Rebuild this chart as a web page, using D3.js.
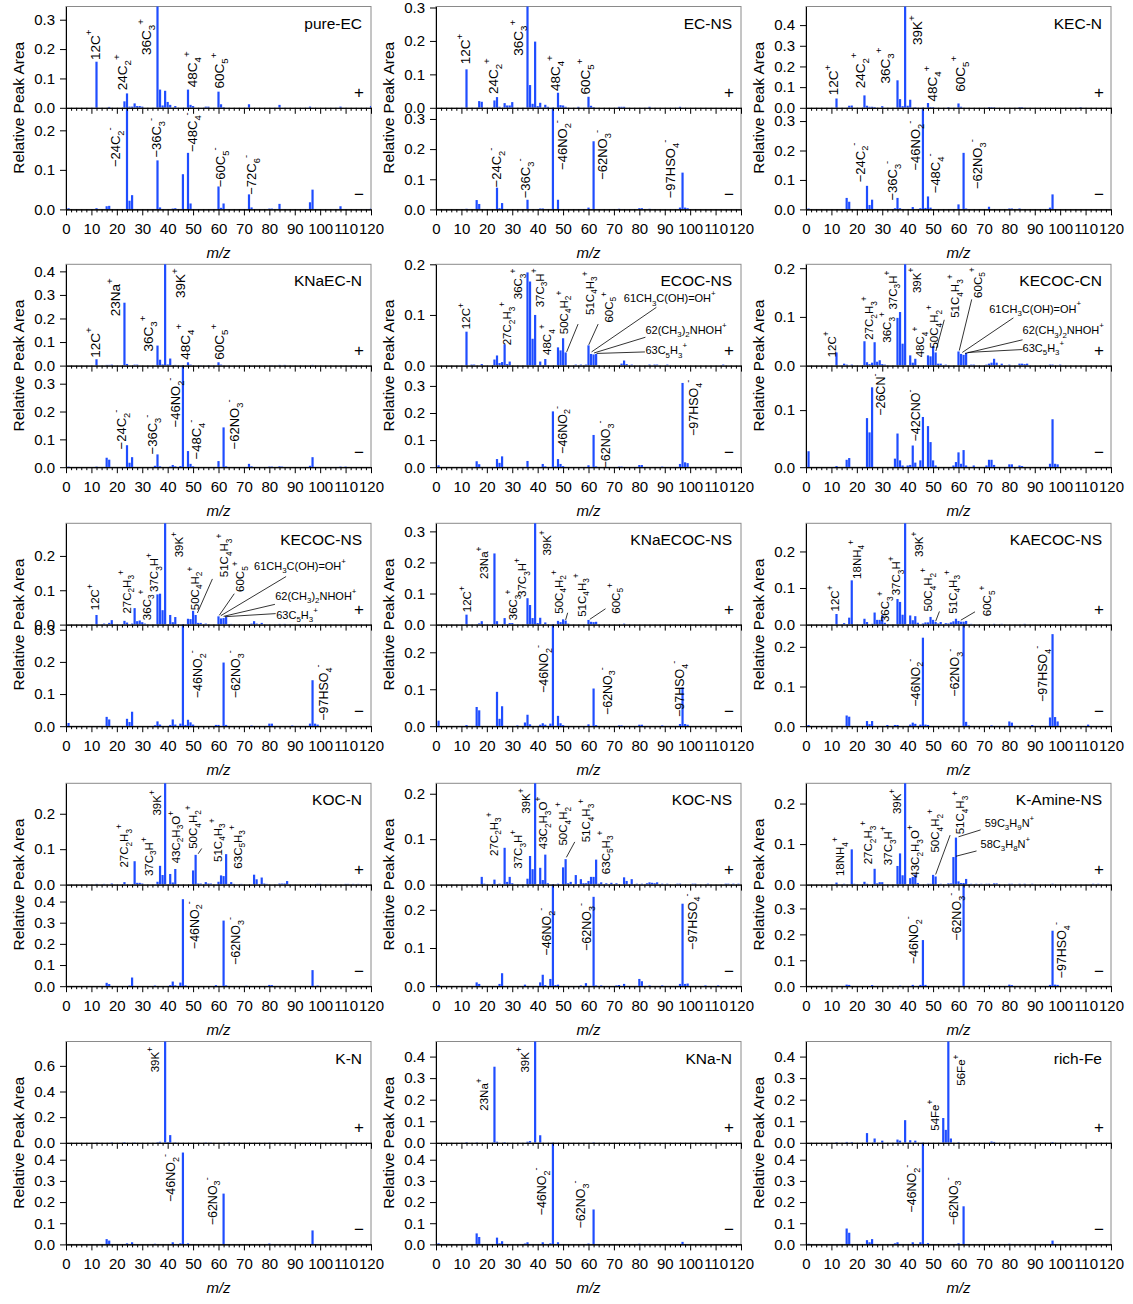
<!DOCTYPE html>
<html><head><meta charset="utf-8">
<script src="https://cdn.jsdelivr.net/npm/d3@7"></script>
<style>body{margin:0;background:#fff}svg{display:block}</style>
</head><body>
<svg id="c" width="1133" height="1304"></svg>
<script>
// ---------------- DATA ----------------
const panelNames = ["pure-EC","EC-NS","KEC-N","KNaEC-N","ECOC-NS","KECOC-CN","KECOC-NS","KNaECOC-NS","KAECOC-NS","KOC-N","KOC-NS","K-Amine-NS","K-N","KNa-N","rich-Fe"];
const mzTicks = [0,10,20,30,40,50,60,70,80,90,100,110,120];
const yMaxPos = [0.345,0.303,0.49,0.43,0.2,0.208,0.295,0.326,0.277,0.286,0.223,0.25,0.79,0.47,0.47];
const yMaxNeg = [0.257,0.337,0.345,0.365,0.375,0.178,0.316,0.275,0.256,0.48,0.266,0.392,0.48,0.48,0.48];
const yStepPos = [0.1,0.1,0.1,0.1,0.1,0.1,0.1,0.1,0.1,0.1,0.1,0.1,0.2,0.1,0.1];
const yStepNeg = [0.1,0.1,0.1,0.1,0.1,0.1,0.1,0.1,0.1,0.1,0.1,0.1,0.1,0.1,0.1];

// pure-EC
const pureEC_pos = [[12,.157],[17,.003],[23,.022],[24,.049],[25,.004],[26,.004],[27,.015],[28,.006],[29,.006],[30,.004],[36,.36],[37,.062],[38,.008],[39,.058],[40,.02],[41,.01],[43,.006],[48,.062],[49,.01],[50,.006],[55,.004],[56,.004],[60,.055],[61,.012],[62,.002],[72,.012],[84,.01],[96,.004],[108,.004],[120,.006]];
const pureEC_neg = [[1,.003],[12,.003],[16,.008],[17,.009],[24,.3],[25,.022],[26,.036],[36,.124],[37,.005],[42,.002],[43,.003],[46,.089],[48,.143],[49,.015],[60,.058],[61,.004],[62,.015],[72,.038],[73,.005],[80,.002],[81,.002],[84,.014],[96,.018],[97,.05],[108,.008],[120,.002]];
const pureEC_posLab = [[11.4,.163,"12C^+"],[22.1,.06,"24C_2^+"],[31.6,.18,"36C_3^+"],[49.7,.07,"48C_4^+"],[60.4,.066,"60C_5^+"]];
const pureEC_negLab = [[19.5,.107,"−24C_2^-"],[35.7,.131,"−36C_3^-"],[49.7,.145,"−48C_4^-"],[60.9,.056,"−60C_5^-"],[73,.037,"−72C_6^-"]];

// EC-NS
const ECNS_pos = [[12,.115],[17,.02],[18,.018],[23,.022],[24,.032],[25,.003],[27,.014],[28,.007],[29,.007],[30,.017],[36,.33],[37,.068],[38,.012],[39,.198],[40,.005],[41,.015],[43,.009],[44,.003],[48,.045],[49,.008],[50,.007],[51,.003],[56,.003],[60,.033],[61,.006],[62,.002],[72,.003],[73,.003],[74,.003],[84,.003],[96,.003]];
const ECNS_neg = [[12,.002],[16,.031],[17,.018],[24,.072],[25,.004],[26,.021],[36,.032],[41,.003],[42,.003],[46,.36],[48,.032],[60,.006],[62,.226],[72,.002],[80,.004],[81,.004],[84,.002],[96,.006],[97,.122],[98,.006],[99,.004]];
const ECNS_posLab = [[11.5,.13,"12C^+"],[22.3,.041,"24C_2^+"],[32.3,.156,"36C_3^+"],[47,.05,"48C_4^+"],[58.8,.04,"60C_5^+"]];
const ECNS_negLab = [[23.6,.073,"−24C_2^-"],[35.2,.037,"−36C_3^-"],[49.6,.131,"−46NO_2^-"],[65.4,.098,"−62NO_3^-"],[92.3,.037,"−97HSO_4^-"]];

// KEC-N
const KECN_pos = [[12,.045],[17,.01],[18,.011],[23,.06],[24,.01],[25,.005],[26,.005],[27,.004],[30,.008],[36,.133],[37,.042],[38,.008],[39,.55],[40,.01],[41,.039],[43,.003],[48,.023],[49,.004],[50,.003],[56,.003],[60,.021],[61,.005],[72,.003],[73,.003],[74,.002],[84,.003],[85,.003],[108,.003]];
const KECN_neg = [[1,.003],[16,.039],[17,.026],[24,.08],[25,.015],[26,.033],[35,.004],[36,.039],[37,.004],[42,.008],[45,.004],[46,.38],[47,.005],[48,.044],[49,.006],[60,.017],[62,.192],[63,.003],[72,.009],[80,.003],[81,.003],[84,.003],[96,.006],[97,.051]];
const KECN_posLab = [[10.8,.061,"12C^+"],[21.2,.094,"24C_2^+"],[31.1,.118,"36C_3^+"],[43.8,.304,"39K^+"],[49.8,.03,"48C_4^+"],[60.6,.078,"60C_5^+"]];
const KECN_negLab = [[21.2,.092,"−24C_2^-"],[34.1,.03,"−36C_3^-"],[43.1,.132,"−46NO_2^-"],[50.8,.055,"−48C_4^-"],[67.5,.069,"−62NO_3^-"]];

// KNaEC-N
const KNaECN_pos = [[12,.027],[16,.003],[17,.003],[18,.004],[23,.267],[24,.007],[27,.004],[28,.004],[36,.085],[37,.025],[38,.005],[39,.5],[40,.005],[41,.03],[43,.003],[48,.014],[49,.004],[53,.002],[56,.002],[60,.014],[61,.004],[72,.002],[81,.002],[84,.003],[86,.003],[97,.003],[113,.002]];
const KNaECN_neg = [[1,.002],[12,.002],[16,.034],[17,.027],[24,.079],[25,.016],[26,.036],[35,.005],[36,.046],[37,.003],[41,.002],[42,.008],[43,.003],[45,.004],[46,.4],[48,.058],[49,.012],[50,.003],[60,.022],[62,.143],[63,.003],[72,.012],[73,.003],[80,.002],[81,.002],[84,.003],[85,.002],[96,.005],[97,.036],[108,.002],[110,.002]];
const KNaECN_posLab = [[11.3,.033,"12C^+"],[19.5,.209,"23Na^+"],[32.4,.06,"36C_3^+"],[44.9,.287,"39K^+"],[46.8,.025,"48C_4^+"],[60.3,.025,"60C_5^+"]];
const KNaECN_negLab = [[21.7,.064,"−24C_2^-"],[34,.046,"−36C_3^-"],[43.2,.143,"−46NO_2^-"],[51.4,.028,"−48C_4^-"],[66.2,.064,"−62NO_3^-"]];

// ECOC-NS
const ECOCNS_pos = [[12,.067],[14,.002],[15,.002],[18,.003],[23,.012],[24,.02],[25,.005],[26,.007],[27,.042],[28,.003],[29,.008],[36,.184],[37,.166],[38,.053],[39,.1],[41,.008],[43,.013],[48,.036],[49,.03],[50,.054],[51,.026],[55,.002],[57,.002],[59,.002],[60,.04],[61,.023],[62,.022],[63,.023],[73,.004],[74,.01],[75,.003],[77,.002],[84,.002],[86,.002],[87,.002],[91,.002],[113,.002]];
const ECOCNS_neg = [[1,.007],[16,.022],[17,.011],[24,.03],[25,.016],[26,.04],[36,.023],[42,.012],[43,.003],[46,.206],[47,.003],[48,.03],[49,.012],[50,.004],[60,.007],[62,.119],[63,.003],[72,.002],[73,.002],[80,.008],[81,.008],[89,.002],[96,.012],[97,.311],[98,.018],[99,.015]];
const ECOCNS_posLab = [[11.9,.072,"12C^+"],[28,.04,"27C_2H_3^+"],[32.3,.131,"36C_3^+"],[40.7,.115,"37C_3H^+"],[43.7,.021,"48C_4^+"],[50.3,.062,"50C_4H_2^+"],[60.5,.1,"51C_4H_3^+"],[68,.085,"60C_5^+"]];
const ECOCNS_negLab = [[49.6,.049,"−46NO_2^-"],[66.7,-.005,"−62NO_3^-"],[101.4,.115,"−97HSO_4^-"]];
const ECOCNS_hLab = [[73.9,.125,"61CH_3C(OH)=OH^+"],[82.4,.062,"62(CH_3)_2NHOH^+"],[82.4,.022,"63C_5H_3^+"]];
const ECOCNS_lead = [[55.9,.082,51.4,.027],[63.8,.082,60.1,.041],[86.7,.115,61.2,.027],[82.4,.056,62.2,.025],[82.2,.027,63.2,.024]];

// KECOC-CN
const KECOCCN_pos = [[12,.027],[15,.004],[16,.002],[18,.002],[23,.05],[24,.007],[25,.003],[26,.006],[27,.048],[28,.008],[29,.011],[30,.003],[31,.002],[36,.098],[37,.11],[38,.045],[39,.23],[41,.021],[42,.006],[43,.014],[48,.021],[49,.019],[50,.04],[51,.027],[52,.004],[53,.004],[55,.002],[60,.029],[61,.024],[62,.022],[63,.026],[65,.002],[66,.002],[71,.002],[72,.004],[73,.006],[74,.014],[75,.006],[77,.004],[80,.002],[84,.004],[85,.004],[86,.003],[87,.004],[96,.002],[97,.002],[100,.002]];
const KECOCCN_neg = [[1,.028],[12,.002],[16,.013],[17,.016],[24,.086],[25,.061],[26,.14],[35,.015],[36,.059],[37,.012],[38,.003],[40,.003],[41,.004],[42,.038],[43,.008],[45,.012],[46,.088],[48,.072],[49,.044],[50,.012],[51,.003],[58,.003],[59,.009],[60,.026],[61,.006],[62,.03],[63,.003],[66,.003],[71,.003],[72,.013],[73,.013],[74,.004],[80,.005],[81,.005],[84,.003],[85,.002],[96,.006],[97,.084],[98,.006],[99,.005]];
const KECOCCN_posLab = [[10.1,.017,"12C^+"],[24.9,.053,"27C_2H_3^+"],[32,.047,"36C_3^+"],[34.1,.115,"37C_3H^+"],[43.5,.149,"39K^+"],[44.9,.017,"48C_4^+"],[50.5,.035,"50C_4H_2^+"],[58.6,.098,"51C_4H_3^+"],[67.5,.139,"60C_5^+"]];
const KECOCCN_negLab = [[29.4,.09,"−26CN^-"],[42.9,.045,"−42CNO^-"]];
const KECOCCN_hLab = [[72.1,.109,"61CH_3C(OH)=OH^+"],[85.2,.064,"62(CH_3)_2NHOH^+"],[85.2,.028,"63C_5H_3^+"]];
const KECOCCN_lead = [[54.4,.094,51.1,.03],[65.2,.136,60.3,.031],[81.6,.098,61.5,.027],[85.2,.053,62.6,.025],[85.2,.033,63.6,.027]];

// KECOC-NS
const KECOCNS_pos = [[12,.028],[15,.003],[17,.005],[18,.013],[23,.011],[24,.006],[26,.003],[27,.048],[28,.01],[29,.012],[30,.007],[31,.003],[36,.088],[37,.09],[38,.042],[39,.32],[41,.028],[42,.007],[43,.022],[48,.017],[49,.016],[50,.04],[51,.028],[52,.005],[53,.005],[55,.003],[60,.024],[61,.018],[62,.019],[63,.022],[65,.002],[73,.003],[74,.01],[75,.003],[77,.005],[84,.002],[86,.002]];
const KECOCNS_neg = [[1,.01],[16,.029],[17,.021],[24,.023],[25,.013],[26,.045],[35,.003],[36,.015],[37,.005],[41,.004],[42,.021],[43,.005],[45,.008],[46,.34],[47,.004],[48,.02],[49,.012],[50,.005],[59,.004],[60,.004],[62,.198],[63,.004],[73,.002],[80,.008],[81,.008],[89,.002],[96,.008],[97,.143],[98,.008],[99,.005]];
const KECOCNS_posLab = [[11.3,.042,"12C^+"],[23.8,.032,"27C_2H_3^+"],[31.7,.013,"36C_3^+"],[34.6,.095,"37C_3H^+"],[44.5,.196,"39K^+"],[50.7,.042,"50C_4H_2^+"],[62.2,.138,"51C_4H_3^+"],[68.6,.095,"60C_5^+"]];
const KECOCNS_negLab = [[51.7,.087,"−46NO_2^-"],[66.8,.087,"−62NO_3^-"],[101.4,.017,"−97HSO_4^-"]];
const KECOCNS_hLab = [[74,.16,"61CH_3C(OH)=OH^+"],[82.3,.072,"62(CH_3)_2NHOH^+"],[82.7,.016,"63C_5H_3^+"]];
const KECOCNS_lead = [[57.6,.133,51.7,.034],[66.2,.09,60.3,.027],[86.6,.14,60.9,.026],[82.2,.059,62,.024],[82.5,.032,62.5,.023]];

// KNaECOC-NS
const KNaECOCNS_pos = [[12,.032],[17,.004],[18,.011],[23,.229],[24,.011],[27,.021],[29,.005],[30,.005],[36,.085],[37,.063],[38,.021],[39,.35],[40,.005],[41,.022],[43,.007],[48,.012],[49,.008],[50,.017],[51,.013],[52,.003],[60,.015],[61,.009],[62,.008],[63,.009],[74,.003]];
const KNaECOCNS_neg = [[1,.015],[12,.003],[16,.052],[17,.043],[24,.093],[25,.02],[26,.054],[32,.002],[35,.01],[36,.031],[37,.005],[41,.004],[42,.008],[43,.004],[45,.007],[46,.3],[48,.028],[49,.008],[50,.003],[60,.005],[62,.102],[63,.003],[72,.002],[73,.002],[80,.004],[81,.004],[89,.002],[96,.006],[97,.105],[98,.006],[99,.004]];
const KNaECOCNS_posLab = [[12.2,.04,"12C^+"],[19,.147,"23Na^+"],[30.3,.014,"36C_3^+"],[33.9,.089,"37C_3H^+"],[43.7,.222,"39K^+"],[48.3,.035,"50C_4H_2^+"],[57.2,.025,"51C_4H_3^+"],[70.6,.035,"60C_5^+"]];
const KNaECOCNS_negLab = [[42.4,.09,"−46NO_2^-"],[67.3,.03,"−62NO_3^-"],[95.9,.025,"−97HSO_4^-"]];
const KNaECOCNS_lead = [[51.8,.038,51,.015],[66.7,.051,60.5,.017]];

// KAECOC-NS
const KAECOCNS_pos = [[12,.029],[15,.004],[17,.019],[18,.121],[23,.016],[24,.007],[26,.002],[27,.033],[28,.013],[29,.013],[30,.026],[31,.005],[36,.07],[37,.062],[38,.027],[39,.3],[41,.025],[42,.012],[43,.023],[44,.005],[46,.003],[47,.006],[48,.006],[49,.021],[50,.013],[51,.007],[52,.003],[53,.007],[55,.004],[56,.003],[57,.006],[58,.009],[59,.016],[60,.01],[61,.008],[62,.008],[63,.01],[65,.002],[74,.002],[77,.002],[86,.002]];
const KAECOCNS_neg = [[1,.003],[16,.027],[17,.024],[24,.013],[25,.005],[26,.013],[32,.003],[35,.003],[36,.003],[41,.004],[42,.009],[43,.006],[45,.004],[46,.223],[47,.004],[48,.003],[62,.28],[63,.011],[64,.002],[73,.002],[80,.012],[81,.009],[89,.003],[96,.022],[97,.232],[98,.023],[99,.012],[111,.004]];
const KAECOCNS_posLab = [[11.4,.036,"12C^+"],[19.9,.125,"18NH_4^+"],[31.1,.007,"36C_3^+"],[35.4,.08,"37C_3H^+"],[44.5,.185,"39K^+"],[48.1,.036,"50C_4H_2^+"],[57.6,.03,"51C_4H_3^+"],[71.3,.023,"60C_5^+"]];
const KAECOCNS_negLab = [[42.9,.049,"−46NO_2^-"],[58.6,.074,"−62NO_3^-"],[93,.061,"−97HSO_4^-"]];
const KAECOCNS_lead = [[52.5,.036,51,.009],[66.5,.035,60.9,.012]];

// KOC-N
const KOCN_pos = [[12,.002],[15,.002],[18,.003],[23,.007],[27,.066],[28,.005],[29,.005],[30,.003],[36,.008],[37,.053],[38,.027],[39,.3],[41,.03],[42,.006],[43,.044],[50,.04],[51,.084],[52,.003],[53,.003],[55,.007],[56,.003],[57,.003],[60,.008],[61,.026],[62,.024],[63,.086],[64,.002],[65,.007],[66,.002],[69,.002],[74,.028],[75,.015],[77,.02],[78,.003],[79,.002],[84,.003],[85,.003],[86,.003],[87,.01],[99,.002],[100,.002],[110,.002],[111,.002],[113,.002],[115,.002]];
const KOCN_neg = [[16,.016],[17,.01],[25,.003],[26,.041],[35,.003],[41,.005],[42,.022],[43,.004],[45,.017],[46,.411],[47,.004],[59,.005],[62,.31],[63,.004],[71,.002],[80,.006],[81,.005],[97,.076],[99,.003]];
const KOCN_posLab = [[22.8,.048,"27C_2H_3^+"],[32.6,.024,"37C_3H^+"],[35.7,.195,"39K^+"],[43.2,.06,"43C_2H_3O^+"],[50.1,.101,"50C_4H_2^+"],[59.6,.064,"51C_4H_3^+"],[67.5,.045,"63C_5H_3^+"]];
const KOCN_negLab = [[50.4,.175,"−46NO_2^-"],[66.8,.1,"−62NO_3^-"]];
const KOCN_lead = [[53.4,.102,52,.087]];

// KOC-NS
const KOCNS_pos = [[18,.017],[19,.002],[23,.011],[25,.002],[27,.081],[28,.006],[29,.017],[30,.003],[36,.013],[37,.063],[38,.034],[39,.25],[41,.037],[42,.01],[43,.066],[44,.003],[48,.002],[50,.038],[51,.056],[52,.003],[53,.006],[55,.021],[57,.012],[58,.003],[59,.003],[60,.008],[61,.017],[62,.017],[63,.055],[64,.002],[65,.005],[67,.003],[69,.004],[71,.003],[74,.016],[75,.008],[77,.012],[79,.002],[81,.002],[83,.003],[84,.005],[85,.004],[86,.003],[87,.005],[89,.002],[91,.002],[95,.002],[96,.002],[101,.002],[102,.002],[107,.002],[114,.002],[115,.002],[117,.002],[119,.002]];
const KOCNS_neg = [[1,.003],[16,.01],[17,.006],[25,.006],[26,.034],[35,.004],[41,.01],[42,.03],[43,.003],[45,.019],[46,.28],[47,.003],[48,.004],[57,.002],[59,.008],[62,.234],[63,.002],[65,.002],[71,.002],[72,.003],[74,.006],[80,.019],[81,.013],[84,.002],[89,.002],[96,.006],[97,.216],[98,.006],[99,.007],[106,.002],[111,.002]];
const KOCNS_posLab = [[22.7,.063,"27C_2H_3^+"],[32.3,.035,"37C_3H^+"],[35.4,.156,"39K^+"],[42.1,.078,"43C_2H_3O^+"],[50,.086,"50C_4H_2^+"],[59,.093,"51C_4H_3^+"],[66.7,.023,"63C_5H_3^+"]];
const KOCNS_negLab = [[43.4,.08,"−46NO_2^-"],[59.2,.092,"−62NO_3^-"],[100.8,.095,"−97HSO_4^-"]];
const KOCNS_lead = [[54.6,.094,51.3,.06]];

// K-Amine-NS
const KAmineNS_pos = [[12,.005],[15,.002],[18,.087],[19,.002],[23,.007],[24,.002],[27,.039],[28,.003],[29,.006],[30,.006],[36,.046],[37,.077],[38,.023],[39,.27],[41,.016],[42,.019],[43,.025],[44,.004],[48,.002],[49,.002],[50,.024],[51,.02],[53,.002],[56,.003],[57,.003],[58,.068],[59,.116],[60,.008],[61,.004],[62,.004],[63,.014],[65,.002],[67,.002],[69,.002],[71,.002],[72,.002],[74,.003],[75,.003],[80,.002],[81,.002],[84,.002],[86,.002],[89,.002],[97,.002],[113,.002],[115,.002]];
const KAmineNS_neg = [[16,.006],[17,.005],[26,.004],[37,.002],[42,.005],[45,.005],[46,.178],[47,.005],[62,.42],[72,.002],[80,.006],[81,.004],[96,.005],[97,.214],[98,.006],[99,.005]];
const KAmineNS_posLab = [[13.4,.021,"18NH_4^+"],[24.5,.05,"27C_2H_3^+"],[32.4,.048,"37C_3H^+"],[35.7,.174,"39K^+"],[42.9,.017,"43C_2H_3O^+"],[50.8,.079,"50C_4H_2^+"],[60.6,.124,"51C_4H_3^+"]];
const KAmineNS_negLab = [[42.2,.085,"−46NO_2^-"],[59.3,.175,"−62NO_3^-"],[100.6,.03,"−97HSO_4^-"]];
const KAmineNS_hLab = [[70.3,.143,"59C_3H_9N^+"],[68.7,.09,"58C_3H_8N^+"]];
const KAmineNS_lead = [[56.7,.122,51,.025],[68.7,.135,60,.118],[67.1,.083,59,.07]];

// K-N
const KN_pos = [[12,.002],[18,.003],[23,.005],[27,.003],[36,.004],[37,.008],[39,.85],[40,.005],[41,.06],[43,.004],[55,.003],[57,.002],[64,.003],[80,.002],[96,.002],[113,.002]];
const KN_neg = [[16,.025],[17,.018],[24,.005],[26,.01],[35,.003],[42,.01],[45,.005],[46,.434],[48,.005],[62,.24],[80,.004],[97,.066]];
const KN_posLab = [[35,.55,"39K^+"]];
const KN_negLab = [[41.2,.2,"−46NO_2^-"],[57.5,.09,"−62NO_3^-"]];

// KNa-N
const KNaN_pos = [[12,.003],[16,.002],[23,.353],[24,.005],[27,.003],[36,.005],[37,.008],[39,.5],[41,.035],[62,.002],[80,.002]];
const KNaN_neg = [[1,.005],[16,.052],[17,.035],[24,.032],[25,.005],[26,.015],[35,.004],[36,.01],[42,.01],[45,.005],[46,.5],[48,.01],[60,.004],[62,.165],[80,.003],[97,.012]];
const KNaN_posLab = [[18.8,.149,"23Na^+"],[34.8,.326,"39K^+"]];
const KNaN_negLab = [[41.5,.137,"−46NO_2^-"],[56.9,.075,"−62NO_3^-"]];

// rich-Fe
const richFe_pos = [[12,.003],[16,.004],[18,.003],[24,.045],[27,.02],[30,.01],[36,.015],[37,.01],[39,.105],[41,.012],[43,.01],[54,.115],[55,.06],[56,.5],[57,.02],[60,.003],[73,.006],[74,.004],[97,.003]];
const richFe_neg = [[1,.003],[16,.075],[17,.055],[24,.02],[25,.01],[26,.025],[35,.005],[36,.01],[42,.01],[45,.01],[46,.5],[48,.006],[60,.005],[62,.18],[80,.003],[97,.018]];
const richFe_posLab = [[50.8,.056,"54Fe^+"],[61,.265,"56Fe^+"]];
const richFe_negLab = [[41.7,.15,"−46NO_2^-"],[57.9,.09,"−62NO_3^-"]];

const panels = [
  {pos:pureEC_pos,neg:pureEC_neg,pl:pureEC_posLab,nl:pureEC_negLab,hl:[],ld:[],big:true},
  {pos:ECNS_pos,neg:ECNS_neg,pl:ECNS_posLab,nl:ECNS_negLab,hl:[],ld:[],big:true},
  {pos:KECN_pos,neg:KECN_neg,pl:KECN_posLab,nl:KECN_negLab,hl:[],ld:[],big:true},
  {pos:KNaECN_pos,neg:KNaECN_neg,pl:KNaECN_posLab,nl:KNaECN_negLab,hl:[],ld:[],big:true},
  {pos:ECOCNS_pos,neg:ECOCNS_neg,pl:ECOCNS_posLab,nl:ECOCNS_negLab,hl:ECOCNS_hLab,ld:ECOCNS_lead},
  {pos:KECOCCN_pos,neg:KECOCCN_neg,pl:KECOCCN_posLab,nl:KECOCCN_negLab,hl:KECOCCN_hLab,ld:KECOCCN_lead},
  {pos:KECOCNS_pos,neg:KECOCNS_neg,pl:KECOCNS_posLab,nl:KECOCNS_negLab,hl:KECOCNS_hLab,ld:KECOCNS_lead},
  {pos:KNaECOCNS_pos,neg:KNaECOCNS_neg,pl:KNaECOCNS_posLab,nl:KNaECOCNS_negLab,hl:[],ld:KNaECOCNS_lead},
  {pos:KAECOCNS_pos,neg:KAECOCNS_neg,pl:KAECOCNS_posLab,nl:KAECOCNS_negLab,hl:[],ld:KAECOCNS_lead},
  {pos:KOCN_pos,neg:KOCN_neg,pl:KOCN_posLab,nl:KOCN_negLab,hl:[],ld:KOCN_lead},
  {pos:KOCNS_pos,neg:KOCNS_neg,pl:KOCNS_posLab,nl:KOCNS_negLab,hl:[],ld:KOCNS_lead},
  {pos:KAmineNS_pos,neg:KAmineNS_neg,pl:KAmineNS_posLab,nl:KAmineNS_negLab,hl:KAmineNS_hLab,ld:KAmineNS_lead},
  {pos:KN_pos,neg:KN_neg,pl:KN_posLab,nl:KN_negLab,hl:[],ld:[]},
  {pos:KNaN_pos,neg:KNaN_neg,pl:KNaN_posLab,nl:KNaN_negLab,hl:[],ld:[]},
  {pos:richFe_pos,neg:richFe_neg,pl:richFe_posLab,nl:richFe_negLab,hl:[],ld:[]}
];

// ---------------- DRAW ----------------
const FONT = '"Liberation Sans", Arial, Helvetica, sans-serif';
const svg = d3.select("#c").attr("font-family", FONT);
const defs = svg.append("defs");
const colLeft = [66, 436, 806], W = 305;
const rowTop = [6.5, 264.3, 523.3, 783.3, 1041.5], H1 = 101.3, H2 = 101.6;
const BAR = "#1f4dff";
const mzMinor = d3.range(0, 121, 2).filter(v => v % 10 !== 0);

function rich(sel, str, fs) {
  const parts = [];
  let i = 0;
  while (i < str.length) {
    const ch = str[i];
    if (ch === "_" || ch === "^") { parts.push({t: str[i + 1], m: ch}); i += 2; }
    else {
      let j = i;
      while (j < str.length && str[j] !== "_" && str[j] !== "^") j++;
      parts.push({t: str.slice(i, j), m: ""}); i = j;
    }
  }
  let off = 0;
  parts.forEach(pt => {
    const target = pt.m === "_" ? 0.3 * fs : pt.m === "^" ? -0.55 * fs : 0;
    sel.append("tspan").attr("dy", (target - off).toFixed(2))
      .attr("font-size", pt.m ? fs * 0.72 : fs).text(pt.t);
    off = target;
  });
}

function styleAxis(g) {
  g.attr("font-family", FONT).attr("font-size", 15);
  g.selectAll("path.domain").attr("stroke", "#000").attr("stroke-width", 1);
  g.selectAll(".tick line").attr("stroke", "#000").attr("stroke-width", 1);
  g.selectAll(".tick text").attr("fill", "#000");
}

panels.forEach((p, i) => {
  const r = Math.floor(i / 3), c = i % 3;
  const L = colLeft[c], T = rowTop[r], M = T + H1, B = M + H2, R = L + W;
  const x = d3.scaleLinear().domain([0, 120]).range([L, R]);
  const yP = d3.scaleLinear().domain([0, yMaxPos[i]]).range([M, T]);
  const yN = d3.scaleLinear().domain([0, yMaxNeg[i]]).range([B, M]);
  const g = svg.append("g");

  defs.append("clipPath").attr("id", "cp" + i).append("rect").attr("x", L).attr("y", T).attr("width", W).attr("height", H1);
  defs.append("clipPath").attr("id", "cn" + i).append("rect").attr("x", L).attr("y", M).attr("width", W).attr("height", H2);

  // frame
  g.append("rect").attr("x", L).attr("y", T).attr("width", W).attr("height", B - T)
    .attr("fill", "none").attr("stroke", "#8a8a8a").attr("stroke-width", 1);

  // bars
  g.append("g").attr("clip-path", `url(#cp${i})`).selectAll("rect").data(p.pos).join("rect")
    .attr("x", d => x(d[0]) - 1.1).attr("width", 2.2)
    .attr("y", d => yP(d[1])).attr("height", d => yP(0) - yP(d[1])).attr("fill", BAR);
  g.append("g").attr("clip-path", `url(#cn${i})`).selectAll("rect").data(p.neg).join("rect")
    .attr("x", d => x(d[0]) - 1.1).attr("width", 2.2)
    .attr("y", d => yN(d[1])).attr("height", d => yN(0) - yN(d[1])).attr("fill", BAR);

  // x axes (middle + bottom)
  [M, B].forEach((yy, k) => {
    const gMin = g.append("g").attr("transform", `translate(0,${yy})`)
      .call(d3.axisBottom(x).tickValues(mzMinor).tickSize(3).tickSizeOuter(0).tickFormat(""));
    styleAxis(gMin);
    const gMaj = g.append("g").attr("transform", `translate(0,${yy})`)
      .call(d3.axisBottom(x).tickValues(mzTicks).tickSize(6).tickSizeOuter(0).tickPadding(8)
        .tickFormat(k === 1 ? d3.format("d") : ""));
    styleAxis(gMaj);
  });

  // y axes
  const tp = d3.range(0, yMaxPos[i] + 1e-9, yStepPos[i]);
  const tn = d3.range(0, yMaxNeg[i] + 1e-9, yStepNeg[i]);
  styleAxis(g.append("g").attr("transform", `translate(${L},0)`)
    .call(d3.axisLeft(yP).tickValues(tp).tickSize(6).tickSizeOuter(0).tickPadding(5).tickFormat(d3.format(".1f"))));
  styleAxis(g.append("g").attr("transform", `translate(${L},0)`)
    .call(d3.axisLeft(yN).tickValues(tn).tickSize(6).tickSizeOuter(0).tickPadding(5).tickFormat(d3.format(".1f"))));

  // titles
  g.append("text").attr("x", R - 9).attr("y", T + 22).attr("text-anchor", "end")
    .attr("font-size", 15.5).text(panelNames[i]);
  g.append("text").attr("x", R - 12).attr("y", M - 10).attr("text-anchor", "middle")
    .attr("font-size", 17).text("+");
  g.append("text").attr("x", R - 12).attr("y", B - 9).attr("text-anchor", "middle")
    .attr("font-size", 17).text("\u2212");
  g.append("text").attr("transform", `translate(${L - 42},${M}) rotate(-90)`)
    .attr("text-anchor", "middle").attr("font-size", 15.5).text("Relative Peak Area");
  g.append("text").attr("x", L + W / 2).attr("y", B + 49).attr("text-anchor", "middle")
    .attr("font-size", 15).attr("font-style", "italic").text("m/z");

  // labels
  const fsP = p.big ? 13.5 : 11.5, fsN = p.big ? 13 : 12.5, fsH = 11;
  p.pl.forEach(d => {
    const t = g.append("text").attr("font-size", fsP)
      .attr("transform", `translate(${x(d[0]) + 0.36 * fsP},${yP(d[1])}) rotate(-90)`);
    rich(t, d[2], fsP);
  });
  p.nl.forEach(d => {
    const t = g.append("text").attr("font-size", fsN)
      .attr("transform", `translate(${x(d[0]) + 0.36 * fsN},${yN(d[1])}) rotate(-90)`);
    rich(t, d[2], fsN);
  });
  p.hl.forEach(d => {
    const t = g.append("text").attr("font-size", fsH).attr("x", x(d[0])).attr("y", yP(d[1]));
    rich(t, d[2], fsH);
  });
  g.selectAll("line.lead").data(p.ld).join("line").attr("class", "lead")
    .attr("x1", d => x(d[0])).attr("y1", d => yP(d[1]))
    .attr("x2", d => x(d[2])).attr("y2", d => yP(d[3]))
    .attr("stroke", "#000").attr("stroke-width", 0.8);
});
</script>
</body></html>
